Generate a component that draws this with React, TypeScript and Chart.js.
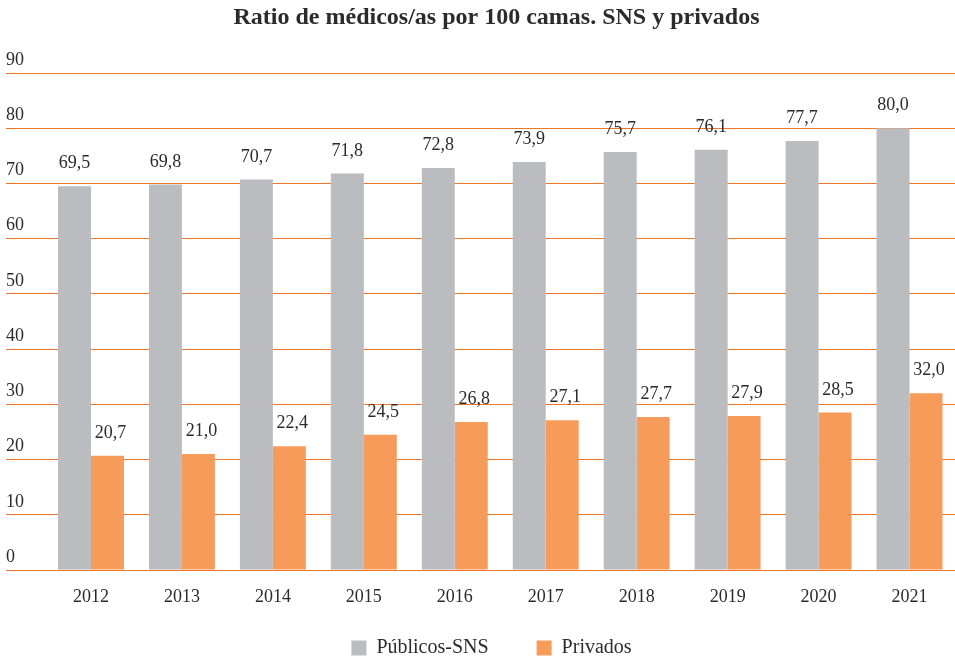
import React, { useEffect, useRef } from "react";
import { Chart, registerables } from "chart.js";

Chart.register(...registerables);

const chartTitle = "Ratio de médicos/as por 100 camas. SNS y privados";
const categories = ["2012", "2013", "2014", "2015", "2016", "2017", "2018", "2019", "2020", "2021"];
const seriesNames = ["Públicos-SNS", "Privados"];
const publicValues = [69.5, 69.8, 70.7, 71.8, 72.8, 73.9, 75.7, 76.1, 77.7, 80.0];
const privateValues = [20.7, 21.0, 22.4, 24.5, 26.8, 27.1, 27.7, 27.9, 28.5, 32.0];
const yMin = 0;
const yMax = 90;
const yStep = 10;

const FONT = "'Liberation Serif', 'DejaVu Serif', serif";
const TEXT = "#2b2b2b";
const GREY = "#bbbcc0";
const ORANGE = "#f79b5a";
const GRID = "#ee7526";

const valueLabelPlugin = {
  id: "valueLabels",
  afterDatasetsDraw(chart: any) {
    const ctx = chart.ctx;
    ctx.save();
    ctx.font = `18px ${FONT}`;
    ctx.fillStyle = TEXT;
    ctx.textAlign = "center";
    ctx.textBaseline = "alphabetic";
    chart.data.datasets.forEach((ds: any, di: number) => {
      const meta = chart.getDatasetMeta(di);
      meta.data.forEach((el: any, i: number) => {
        const v = ds.data[i] as number;
        const txt = v.toFixed(1).replace(".", ",");
        ctx.fillText(txt, el.x + (di === 1 ? 3 : 0), el.y - 18);
      });
    });
    ctx.restore();
  },
};

const blockShiftPlugin = {
  id: "blockShift",
  afterLayout(chart: any) {
    const l = chart.legend;
    if (l) {
      l.left += 11;
      l.right += 11;
      l.top -= 20;
      l.bottom -= 20;
    }
    const t = chart.titleBlock;
    if (t) {
      t.left += 16;
      t.right += 16;
    }
  },
};

export default function App() {
  const ref = useRef<HTMLCanvasElement | null>(null);

  useEffect(() => {
    document.body.style.margin = "0";
    const canvas = ref.current;
    if (!canvas) return;
    Chart.defaults.font.family = FONT;
    const chart = new Chart(canvas, {
      type: "bar",
      data: {
        labels: categories,
        datasets: [
          {
            label: seriesNames[0],
            data: publicValues,
            backgroundColor: GREY,
            borderWidth: 0,
            categoryPercentage: 0.725,
            barPercentage: 1.0,
          },
          {
            label: seriesNames[1],
            data: privateValues,
            backgroundColor: ORANGE,
            borderWidth: 0,
            categoryPercentage: 0.725,
            barPercentage: 1.0,
          },
        ],
      },
      options: {
        responsive: false,
        animation: false,
        layout: { padding: { left: 6, right: 0, top: 0, bottom: -28 } },
        plugins: {
          title: {
            display: true,
            text: chartTitle,
            color: TEXT,
            font: { family: FONT, size: 24, weight: "bold" },
            padding: { top: 3.5, bottom: 40.7 },
          },
          legend: {
            display: true,
            position: "bottom",
            labels: {
              boxWidth: 15,
              boxHeight: 15,
              padding: 48,
              color: TEXT,
              font: { family: FONT, size: 20 },
            },
          },
          tooltip: { enabled: false },
        },
        scales: {
          x: {
            grid: { display: false, drawTicks: false },
            border: { display: false },
            ticks: {
              color: TEXT,
              font: { family: FONT, size: 18 },
              padding: 16,
            },
            afterFit: (s: any) => {
              s.height = 40;
            },
          },
          y: {
            min: yMin,
            max: yMax,
            grid: {
              color: GRID,
              lineWidth: 1,
              drawTicks: true,
              tickLength: 39.5,
            },
            border: { display: false },
            ticks: {
              stepSize: yStep,
              color: TEXT,
              font: { family: FONT, size: 18 },
              padding: 0,
              crossAlign: "far",
              labelOffset: -13,
            },
            afterFit: (s: any) => {
              s.width = 39.5;
            },
          },
        },
      },
      plugins: [valueLabelPlugin, blockShiftPlugin],
    } as any);
    return () => chart.destroy();
  }, []);

  return (
    <div style={{ width: 955, height: 660 }}>
      <canvas ref={ref} width={955} height={660} style={{ display: "block" }} />
    </div>
  );
}
